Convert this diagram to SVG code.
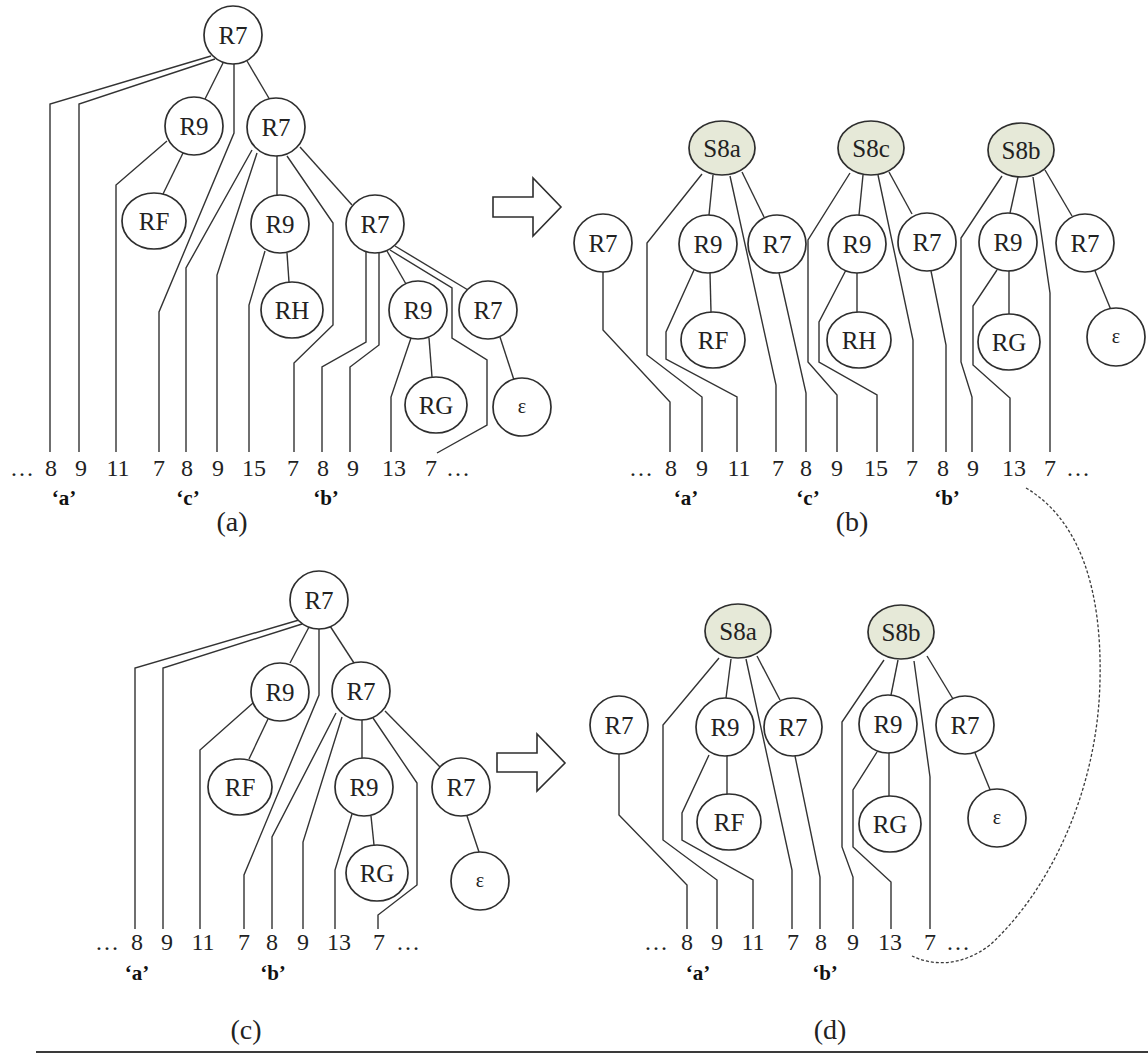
<svg xmlns="http://www.w3.org/2000/svg" width="1148" height="1055" viewBox="0 0 1148 1055">
  <style>
    .nd { fill: #ffffff; stroke: #2e2e2e; stroke-width: 1.7; }
    .sn { fill: #e6e9d8; stroke: #2e2e2e; stroke-width: 1.7; }
    .ln { fill: none; stroke: #333333; stroke-width: 1.4; stroke-linejoin: miter; }
    .tx { font-family: "Liberation Serif", "Times New Roman", serif; font-size: 25px; fill: #222222; text-anchor: middle; }
    .ep { font-family: "Liberation Serif", "Times New Roman", serif; font-size: 20px; fill: #222222; text-anchor: middle; }
    .num { font-family: "Liberation Serif", "Times New Roman", serif; font-size: 24px; fill: #222222; text-anchor: middle; }
    .lab { font-family: "Liberation Serif", "Times New Roman", serif; font-size: 21px; font-weight: bold; fill: #111111; text-anchor: middle; }
    .cap { font-family: "Liberation Serif", "Times New Roman", serif; font-size: 28px; fill: #222222; text-anchor: middle; }
    .arr { fill: #ffffff; stroke: #2e2e2e; stroke-width: 1.6; stroke-linejoin: miter; }
    .dash { fill: none; stroke: #3a3a3a; stroke-width: 1.3; stroke-dasharray: 3 2; }
  </style>

  <!-- connectors -->
  <g id="connectors">
    <!-- panel (a): tree edges -->
    <g id="edges-a">
      <line class="ln" x1="223" y1="63" x2="205" y2="99"/>
      <line class="ln" x1="247" y1="61" x2="270" y2="100"/>
      <line class="ln" x1="183" y1="153" x2="163" y2="194"/>
      <line class="ln" x1="277" y1="156" x2="277" y2="196"/>
      <line class="ln" x1="300" y1="147" x2="352" y2="205"/>
      <line class="ln" x1="287" y1="253" x2="289" y2="282"/>
      <line class="ln" x1="387" y1="251" x2="406" y2="284"/>
      <line class="ln" x1="395" y1="246" x2="468" y2="290"/>
      <line class="ln" x1="429" y1="338" x2="432" y2="377"/>
      <line class="ln" x1="500" y1="337" x2="514" y2="380"/>
      <!-- links to the symbol sequence -->
      <polyline class="ln" points="211,56 50,104 50,452"/>
      <polyline class="ln" points="215,59 79,104 79,452"/>
      <polyline class="ln" points="167,141 116,185 116,452"/>
      <polyline class="ln" points="234,64 234,133 159,312 159,452"/>
      <polyline class="ln" points="252,150 186,268 186,452"/>
      <polyline class="ln" points="257,153 217,275 217,452"/>
      <polyline class="ln" points="265,251 249,305 249,452"/>
      <polyline class="ln" points="287,156 333,223 333,325 294,363 294,452"/>
      <polyline class="ln" points="366,251 366,342 322,367 322,452"/>
      <polyline class="ln" points="379,252 379,345 350,367 350,452"/>
      <polyline class="ln" points="411,338 391,397 391,452"/>
      <polyline class="ln" points="390,250 452,288 452,338 487,360 487,425 437,453"/>
    </g>

    <!-- panel (b) -->
    <g id="edges-b">
      <line class="ln" x1="713" y1="175" x2="709" y2="215"/>
      <line class="ln" x1="742" y1="172" x2="764" y2="217"/>
      <line class="ln" x1="710" y1="273" x2="711" y2="312"/>
      <line class="ln" x1="863" y1="175" x2="859" y2="215"/>
      <line class="ln" x1="889" y1="172" x2="912" y2="214"/>
      <line class="ln" x1="857" y1="273" x2="857" y2="312"/>
      <line class="ln" x1="1018" y1="177" x2="1010" y2="213"/>
      <line class="ln" x1="1045" y1="170" x2="1072" y2="216"/>
      <line class="ln" x1="1009" y1="271" x2="1009" y2="314"/>
      <line class="ln" x1="1095" y1="271" x2="1111" y2="310"/>
      <polyline class="ln" points="603,272 603,330 670,402 670,452"/>
      <polyline class="ln" points="702,174 647,243 647,355 702,397 702,452"/>
      <polyline class="ln" points="694,270 666,332 666,359 737,397 737,452"/>
      <polyline class="ln" points="730,176 776,385 776,452"/>
      <polyline class="ln" points="779,273 806,393 806,452"/>
      <polyline class="ln" points="850,173 808,240 808,362 837,395 837,452"/>
      <polyline class="ln" points="846,270 819,322 819,362 877,395 877,452"/>
      <polyline class="ln" points="878,175 913,340 913,452"/>
      <polyline class="ln" points="931,271 946,345 946,452"/>
      <polyline class="ln" points="1002,176 961,238 961,362 972,397 972,452"/>
      <polyline class="ln" points="997,270 973,306 973,365 1010,398 1010,452"/>
      <polyline class="ln" points="1033,177 1050,293 1050,452"/>
    </g>

    <!-- panel (c) -->
    <g id="edges-c">
      <line class="ln" x1="309" y1="627" x2="290" y2="663"/>
      <line class="ln" x1="330" y1="626" x2="354" y2="663"/>
      <line class="ln" x1="268" y1="719" x2="249" y2="759"/>
      <line class="ln" x1="362" y1="720" x2="362" y2="758"/>
      <line class="ln" x1="385" y1="711" x2="440" y2="767"/>
      <line class="ln" x1="371" y1="816" x2="374" y2="845"/>
      <line class="ln" x1="467" y1="816" x2="479" y2="852"/>
      <polyline class="ln" points="299,620 135,668 135,929"/>
      <polyline class="ln" points="302,624 163,668 163,929"/>
      <polyline class="ln" points="253,703 200,750 200,929"/>
      <polyline class="ln" points="319,629 319,695 244,875 244,929"/>
      <polyline class="ln" points="336,713 272,837 272,929"/>
      <polyline class="ln" points="342,717 303,842 303,929"/>
      <polyline class="ln" points="352,814 335,870 335,929"/>
      <polyline class="ln" points="373,718 417,783 417,885 378,915 378,929"/>
    </g>

    <!-- panel (d) -->
    <g id="edges-d">
      <line class="ln" x1="731" y1="659" x2="726" y2="698"/>
      <line class="ln" x1="757" y1="656" x2="780" y2="700"/>
      <line class="ln" x1="727" y1="756" x2="727" y2="794"/>
      <line class="ln" x1="898" y1="660" x2="891" y2="695"/>
      <line class="ln" x1="927" y1="656" x2="953" y2="699"/>
      <line class="ln" x1="889" y1="753" x2="889" y2="796"/>
      <line class="ln" x1="975" y1="753" x2="991" y2="792"/>
      <polyline class="ln" points="619,754 619,815 687,885 687,929"/>
      <polyline class="ln" points="719,658 663,725 663,840 717,880 717,929"/>
      <polyline class="ln" points="709,755 682,813 682,840 753,880 753,929"/>
      <polyline class="ln" points="746,659 792,870 792,929"/>
      <polyline class="ln" points="795,756 820,877 820,929"/>
      <polyline class="ln" points="884,660 842,722 842,847 853,877 853,929"/>
      <polyline class="ln" points="877,752 853,790 853,847 891,882 891,929"/>
      <polyline class="ln" points="914,661 930,777 930,929"/>
    </g>

    <!-- dotted link from (b) to (d) -->
    <path class="dash" d="M 1026 488 C 1080 520, 1102 590, 1100 680 C 1098 790, 1050 890, 990 945 C 960 968, 930 965, 912 956"/>
  </g>

  <!-- block arrows -->
  <polygon id="arrow-ab" class="arr" points="493,197 533,197 533,178 561,207 533,236 533,217 493,217"/>
  <polygon id="arrow-cd" class="arr" points="497,753 537,753 537,734 565,763 537,791 537,772 497,772"/>

  <!-- panel (a) nodes -->
  <g id="a-r7"><circle class="nd" cx="233" cy="35" r="29"/><text class="tx" x="233" y="44">R7</text></g>
  <g id="a-r9"><circle class="nd" cx="194" cy="126" r="29"/><text class="tx" x="194" y="135">R9</text></g>
  <g id="a-r7b"><circle class="nd" cx="276" cy="127" r="29"/><text class="tx" x="276" y="136">R7</text></g>
  <g id="a-rf"><ellipse class="nd" cx="154" cy="221" rx="32" ry="28"/><text class="tx" x="154" y="230">RF</text></g>
  <g id="a-r9b"><circle class="nd" cx="280" cy="224" r="29"/><text class="tx" x="280" y="233">R9</text></g>
  <g id="a-rh"><ellipse class="nd" cx="292" cy="310" rx="31" ry="28"/><text class="tx" x="292" y="319">RH</text></g>
  <g id="a-r7c"><circle class="nd" cx="375" cy="224" r="29"/><text class="tx" x="375" y="233">R7</text></g>
  <g id="a-r9c"><circle class="nd" cx="418" cy="310" r="29"/><text class="tx" x="418" y="319">R9</text></g>
  <g id="a-r7d"><circle class="nd" cx="488" cy="310" r="29"/><text class="tx" x="488" y="319">R7</text></g>
  <g id="a-rg"><ellipse class="nd" cx="436" cy="405" rx="31" ry="28"/><text class="tx" x="436" y="414">RG</text></g>
  <g id="a-eps"><circle class="nd" cx="522" cy="407" r="29"/><text class="ep" x="522" y="413">ε</text></g>

  <!-- panel (b) nodes -->
  <g id="b-s8a"><ellipse class="sn" cx="722" cy="148" rx="33" ry="27"/><text class="tx" x="722" y="157">S8a</text></g>
  <g id="b-r7"><circle class="nd" cx="603" cy="243" r="29"/><text class="tx" x="603" y="252">R7</text></g>
  <g id="b-r9a"><circle class="nd" cx="708" cy="244" r="29"/><text class="tx" x="708" y="253">R9</text></g>
  <g id="b-r7a"><circle class="nd" cx="777" cy="244" r="29"/><text class="tx" x="777" y="253">R7</text></g>
  <g id="b-rf"><ellipse class="nd" cx="713" cy="340" rx="32" ry="28"/><text class="tx" x="713" y="349">RF</text></g>
  <g id="b-s8c"><ellipse class="sn" cx="871" cy="148" rx="33" ry="27"/><text class="tx" x="871" y="157">S8c</text></g>
  <g id="b-r9c"><circle class="nd" cx="857" cy="244" r="29"/><text class="tx" x="857" y="253">R9</text></g>
  <g id="b-r7c"><circle class="nd" cx="927" cy="242" r="29"/><text class="tx" x="927" y="251">R7</text></g>
  <g id="b-rh"><ellipse class="nd" cx="859" cy="340" rx="32" ry="28"/><text class="tx" x="859" y="349">RH</text></g>
  <g id="b-s8b"><ellipse class="sn" cx="1021" cy="150" rx="33" ry="27"/><text class="tx" x="1021" y="159">S8b</text></g>
  <g id="b-r9b"><circle class="nd" cx="1008" cy="242" r="29"/><text class="tx" x="1008" y="251">R9</text></g>
  <g id="b-r7b"><circle class="nd" cx="1085" cy="243" r="29"/><text class="tx" x="1085" y="252">R7</text></g>
  <g id="b-rg"><ellipse class="nd" cx="1009" cy="342" rx="31" ry="28"/><text class="tx" x="1009" y="351">RG</text></g>
  <g id="b-eps"><circle class="nd" cx="1116" cy="337" r="29"/><text class="ep" x="1116" y="343">ε</text></g>

  <!-- panel (c) nodes -->
  <g id="c-r7"><circle class="nd" cx="319" cy="600" r="29"/><text class="tx" x="319" y="609">R7</text></g>
  <g id="c-r9"><circle class="nd" cx="280" cy="692" r="29"/><text class="tx" x="280" y="701">R9</text></g>
  <g id="c-r7b"><circle class="nd" cx="361" cy="691" r="29"/><text class="tx" x="361" y="700">R7</text></g>
  <g id="c-rf"><ellipse class="nd" cx="240" cy="787" rx="32" ry="28"/><text class="tx" x="240" y="796">RF</text></g>
  <g id="c-r9b"><circle class="nd" cx="364" cy="787" r="29"/><text class="tx" x="364" y="796">R9</text></g>
  <g id="c-r7c"><circle class="nd" cx="461" cy="787" r="29"/><text class="tx" x="461" y="796">R7</text></g>
  <g id="c-rg"><ellipse class="nd" cx="377" cy="873" rx="31" ry="28"/><text class="tx" x="377" y="882">RG</text></g>
  <g id="c-eps"><circle class="nd" cx="480" cy="881" r="29"/><text class="ep" x="480" y="887">ε</text></g>

  <!-- panel (d) nodes -->
  <g id="d-s8a"><ellipse class="sn" cx="738" cy="631" rx="33" ry="27"/><text class="tx" x="738" y="640">S8a</text></g>
  <g id="d-r7"><circle class="nd" cx="619" cy="725" r="29"/><text class="tx" x="619" y="734">R7</text></g>
  <g id="d-r9a"><circle class="nd" cx="725" cy="727" r="29"/><text class="tx" x="725" y="736">R9</text></g>
  <g id="d-r7a"><circle class="nd" cx="793" cy="727" r="29"/><text class="tx" x="793" y="736">R7</text></g>
  <g id="d-rf"><ellipse class="nd" cx="729" cy="822" rx="32" ry="28"/><text class="tx" x="729" y="831">RF</text></g>
  <g id="d-s8b"><ellipse class="sn" cx="901" cy="632" rx="33" ry="27"/><text class="tx" x="901" y="641">S8b</text></g>
  <g id="d-r9b"><circle class="nd" cx="888" cy="724" r="29"/><text class="tx" x="888" y="733">R9</text></g>
  <g id="d-r7b"><circle class="nd" cx="965" cy="725" r="29"/><text class="tx" x="965" y="734">R7</text></g>
  <g id="d-rg"><ellipse class="nd" cx="890" cy="824" rx="31" ry="28"/><text class="tx" x="890" y="833">RG</text></g>
  <g id="d-eps"><circle class="nd" cx="997" cy="818" r="29"/><text class="ep" x="997" y="824">ε</text></g>

  <!-- symbol sequences -->
  <g id="seq-a">
    <text class="num" x="22" y="476">…</text>
    <text class="num" x="51" y="476">8</text>
    <text class="num" x="81" y="476">9</text>
    <text class="num" x="118" y="476">11</text>
    <text class="num" x="159" y="476">7</text>
    <text class="num" x="187" y="476">8</text>
    <text class="num" x="218" y="476">9</text>
    <text class="num" x="254" y="476">15</text>
    <text class="num" x="293" y="476">7</text>
    <text class="num" x="323" y="476">8</text>
    <text class="num" x="353" y="476">9</text>
    <text class="num" x="394" y="476">13</text>
    <text class="num" x="431" y="476">7</text>
    <text class="num" x="458" y="476">…</text>
    <text class="lab" x="64" y="505">‘a’</text>
    <text class="lab" x="188" y="505">‘c’</text>
    <text class="lab" x="326" y="505">‘b’</text>
    <text class="cap" x="232" y="531">(a)</text>
  </g>
  <g id="seq-b">
    <text class="num" x="641" y="476">…</text>
    <text class="num" x="671" y="476">8</text>
    <text class="num" x="702" y="476">9</text>
    <text class="num" x="739" y="476">11</text>
    <text class="num" x="778" y="476">7</text>
    <text class="num" x="806" y="476">8</text>
    <text class="num" x="837" y="476">9</text>
    <text class="num" x="876" y="476">15</text>
    <text class="num" x="912" y="476">7</text>
    <text class="num" x="943" y="476">8</text>
    <text class="num" x="973" y="476">9</text>
    <text class="num" x="1014" y="476">13</text>
    <text class="num" x="1050" y="476">7</text>
    <text class="num" x="1078" y="476">…</text>
    <text class="lab" x="686" y="505">‘a’</text>
    <text class="lab" x="808" y="505">‘c’</text>
    <text class="lab" x="947" y="505">‘b’</text>
    <text class="cap" x="852" y="531">(b)</text>
  </g>
  <g id="seq-c">
    <text class="num" x="107" y="950">…</text>
    <text class="num" x="137" y="950">8</text>
    <text class="num" x="167" y="950">9</text>
    <text class="num" x="203" y="950">11</text>
    <text class="num" x="244" y="950">7</text>
    <text class="num" x="272" y="950">8</text>
    <text class="num" x="303" y="950">9</text>
    <text class="num" x="339" y="950">13</text>
    <text class="num" x="379" y="950">7</text>
    <text class="num" x="408" y="950">…</text>
    <text class="lab" x="137" y="980">‘a’</text>
    <text class="lab" x="273" y="980">‘b’</text>
    <text class="cap" x="246" y="1039">(c)</text>
  </g>
  <g id="seq-d">
    <text class="num" x="656" y="950">…</text>
    <text class="num" x="687" y="950">8</text>
    <text class="num" x="717" y="950">9</text>
    <text class="num" x="753" y="950">11</text>
    <text class="num" x="793" y="950">7</text>
    <text class="num" x="821" y="950">8</text>
    <text class="num" x="853" y="950">9</text>
    <text class="num" x="890" y="950">13</text>
    <text class="num" x="930" y="950">7</text>
    <text class="num" x="958" y="950">…</text>
    <text class="lab" x="698" y="980">‘a’</text>
    <text class="lab" x="825" y="980">‘b’</text>
    <text class="cap" x="830" y="1039">(d)</text>
  </g>

  <!-- bottom rule -->
  <line x1="36" y1="1052" x2="1148" y2="1052" stroke="#3a3a3a" stroke-width="2"/>
</svg>
